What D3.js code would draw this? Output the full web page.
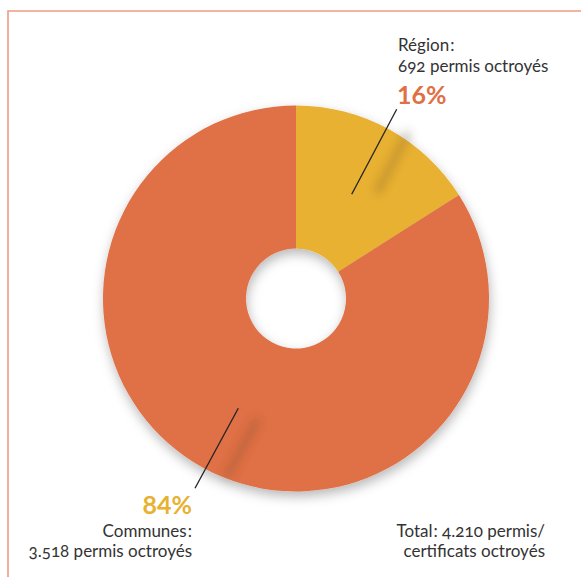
<!DOCTYPE html>
<html>
<head>
<meta charset="utf-8">
<script src="https://cdn.jsdelivr.net/npm/d3@7"></script>
<style>
  html, body { margin: 0; padding: 0; background: #fff; }
  svg { display: block; font-family: Lato, "Open Sans", sans-serif; }
</style>
</head>
<body>
<svg id="chart" width="581" height="577"></svg>
<script>
// Share of permits granted, by issuing authority
const categories = ["Région", "Communes"];
const shares = [16, 84];
const permits = ["692", "3.518"];
const totalLabel = ["Total\u200A: 4.210 permis/", "certificats octroyés"];

const colors = ["#E8B130", "#E06F45"];
const pctColors = ["#E06F45", "#E8B130"];

const svg = d3.select("#chart");
const W = 581, H = 577;
const cx = 296, cy = 298.5, rOuter = 193, rInner = 50;

const defs = svg.append("defs");
const shadow = defs.append("filter").attr("id", "pieShadow")
  .attr("x", "-20%").attr("y", "-20%").attr("width", "140%").attr("height", "140%");
shadow.append("feDropShadow").attr("dx", 1).attr("dy", 5)
  .attr("stdDeviation", 6).attr("flood-color", "#000").attr("flood-opacity", 0.28);
const blur = defs.append("filter").attr("id", "lineBlur")
  .attr("x", "-100%").attr("y", "-50%").attr("width", "300%").attr("height", "200%");
blur.append("feGaussianBlur").attr("stdDeviation", 4.5);

// frame
svg.append("path")
  .attr("d", `M8,${H} L8,11 L${W},11`)
  .attr("fill", "none").attr("stroke", "#EE9C82").attr("stroke-width", 1.6);

const g = svg.append("g").attr("transform", `translate(${cx},${cy})`);
const pie = d3.pie().sort(null).value(d => d)(shares);
const arc = d3.arc().innerRadius(rInner).outerRadius(rOuter);

g.append("g").attr("filter", "url(#pieShadow)")
  .selectAll("path").data(pie).join("path")
  .attr("d", arc)
  .attr("fill", (d, i) => colors[i]);

// leader lines (point inside slice -> label)
const leaders = [
  { from: [351.7, 194.3], to: [396.7, 109.3] },
  { from: [238.3, 408.3], to: [195, 488.3] }
];
const shadowOffsets = [[22, 4], [22, 6]];

leaders.forEach((l, i) => {
  const [ox, oy] = shadowOffsets[i];
  const t0 = 0.1, t1 = 0.75;
  const p = t => [l.from[0] + (l.to[0] - l.from[0]) * t, l.from[1] + (l.to[1] - l.from[1]) * t];
  const a = p(t0), b = p(t1);
  svg.append("line")
    .attr("x1", a[0] + ox).attr("y1", a[1] + oy)
    .attr("x2", b[0] + ox).attr("y2", b[1] + oy)
    .attr("stroke", "#5a4020").attr("stroke-opacity", 0.22)
    .attr("stroke-width", 9).attr("stroke-linecap", "round")
    .attr("filter", "url(#lineBlur)");
  svg.append("line")
    .attr("x1", l.from[0]).attr("y1", l.from[1])
    .attr("x2", l.to[0]).attr("y2", l.to[1])
    .attr("stroke", "#222").attr("stroke-width", 1.3);
});

const txt = "#333";
const numStyle = "oldstyle-nums";
const fs = 17;

// Région label
const rg = svg.append("g").attr("font-size", fs).attr("fill", txt)
  .style("font-variant-numeric", numStyle);
rg.append("text").attr("x", 398).attr("y", 50.5).text(categories[0] + "\u200A:");
rg.append("text").attr("x", 398).attr("y", 71.5).text(permits[0] + " permis octroyés");
svg.append("text").attr("x", 397).attr("y", 103.5)
  .attr("font-size", 25).attr("font-weight", 700).attr("fill", pctColors[0])
  .text(shares[0] + "%");

// Communes label
svg.append("text").attr("x", 192).attr("y", 513.5).attr("text-anchor", "end")
  .attr("font-size", 25).attr("font-weight", 700).attr("fill", pctColors[1])
  .text(shares[1] + "%");
const cg = svg.append("g").attr("font-size", fs).attr("fill", txt)
  .attr("text-anchor", "end").style("font-variant-numeric", numStyle);
cg.append("text").attr("x", 192).attr("y", 537).text(categories[1] + "\u200A:");
cg.append("text").attr("x", 192).attr("y", 557).text(permits[1] + " permis octroyés");

// total
const tg = svg.append("g").attr("font-size", fs).attr("fill", txt)
  .attr("text-anchor", "end").style("font-variant-numeric", numStyle);
totalLabel.forEach((s, i) => {
  tg.append("text").attr("x", 545).attr("y", 537 + i * 19.5).text(s);
});
</script>
</body>
</html>
